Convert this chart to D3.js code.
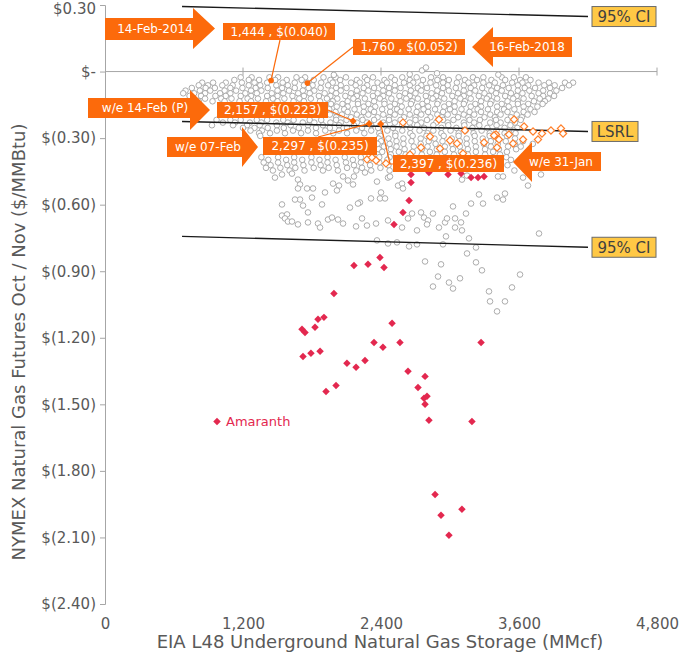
<!DOCTYPE html>
<html>
<head>
<meta charset="utf-8">
<script src="https://cdn.jsdelivr.net/npm/d3@7"></script>
<style>
  body { margin: 0; background: #fff; }
  text { font-family: "DejaVu Sans", Verdana, sans-serif; }
</style>
</head>
<body>
<svg width="694" height="657"></svg>
<script>
// axis ticks
const xTicks = [0, 1200, 2400, 3600, 4800]
const yTicks = [0.3, 0, -0.3, -0.6, -0.9, -1.2, -1.5, -1.8, -2.1, -2.4]

// gray history points: [y, [x...]]
const grayRows = [
  [-0.026, [1180,1275,1430,1505,1665,1740,1900,2005,2095,2260,2330,2490,2585,2710,2835,2940,3075,3200,3290,3450,3555,3660]],
  [-0.038, [1125,1250,1340,1480,1580,1710,1815,1960,2045,2190,2280,2430,2520,2650,2765,2890,2990,3130,3235,3360,3480,3610,3700]],
  [-0.050, [845,940,1050,1190,1300,1410,1545,1650,1760,1880,1980,2140,2215,2370,2450,2600,2680,2830,2940,3060,3160,3290,3390,3540,3630,3770,3860,4000,4070]],
  [-0.062, [815,895,1020,1110,1250,1350,1490,1590,1730,1805,1940,2050,2180,2280,2410,2520,2650,2750,2880,2980,3120,3210,3340,3460,3590,3680,3820,3910,4035]],
  [-0.074, [755,875,955,1090,1195,1310,1415,1540,1650,1770,1875,2010,2100,2250,2340,2470,2570,2720,2800,2940,3050,3180,3280,3410,3510,3650,3740,3870,3975]],
  [-0.086, [700,825,915,1040,1140,1270,1360,1500,1600,1720,1820,1970,2050,2190,2290,2420,2520,2660,2750,2890,2990,3120,3220,3360,3450,3590,3690,3810,3925]],
  [-0.098, [680,775,870,1000,1090,1220,1320,1450,1550,1680,1780,1910,2010,2140,2240,2370,2470,2610,2700,2840,2930,3070,3170,3300,3400,3530,3630,3770,3870]],
  [-0.110, [735,835,960,1050,1180,1270,1410,1500,1630,1730,1860,1960,2090,2190,2330,2420,2560,2650,2790,2880,3020,3120,3250,3340,3480,3580,3710,3810,3905]],
  [-0.122, [765,870,1010,1100,1240,1330,1460,1560,1690,1790,1930,2020,2160,2260,2390,2490,2620,2720,2850,2950,3090,3180,3320,3410,3550,3640,3780,3855]],
  [-0.134, [815,935,1040,1170,1270,1400,1500,1640,1730,1870,1980,2110,2200,2340,2430,2570,2670,2800,2900,3040,3130,3270,3360,3500,3590,3730,3825]],
  [-0.146, [1965,2065,2200,2290,2430,2520,2660,2760,2890,2990,3120,3220,3350,3450,3590,3680,3805]],
  [-0.158, [2015,2110,2250,2350,2480,2580,2720,2810,2950,3040,3180,3270,3410,3510,3640,3760]],
  [-0.170, [1950,2080,2170,2310,2410,2540,2640,2770,2870,3000,3100,3240,3330,3470,3560,3700]],
  [-0.182, [2005,2110,2250,2340,2480,2570,2710,2810,2940,3040,3170,3270,3410,3500,3640,3735]],
  [-0.194, [1955,2060,2190,2290,2420,2520,2650,2750,2890,2980,3120,3210,3350,3440,3580,3675]],
  [-0.206, [2010,2140,2230,2370,2470,2600,2700,2830,2930,3070,3160,3300,3390,3530,3625]],
  [-0.218, [970,1090,1180,1320,1410,1550,1640,1780,1880,2010,2100,2240,2340,2470,2570,2700,2800,2940,3030,3170,3260,3400,3500,3615]],
  [-0.230, [1025,1130,1260,1360,1490,1590,1720,1820,1960,2050,2190,2280,2420,2520,2650,2750,2880,2980,3120,3210,3350,3440,3565]],
  [-0.242, [930,1113,1235,1345,1495,1615,1765,1895,2035,2165,2315,2435,2585,2715,2855,2985,3125,3255,3405,3525]],
  [-0.254, [1200,1300,1415,1555,1685,1835,1955,2105,2235,2375,2505,2655,2775,2925,3055,3195,3325,3475,3585]],
  [-0.266, [1265,1365,1495,1635,1765,1915,2035,2185,2315,2455,2585,2735,2855,3005,3135,3275,3405,3555]],
  [-0.278, [1340,1435,1565,1705,1835,1985,2105,2255,2385,2525,2655,2805,2925,3075,3205,3345,3475,3570]],
  [-0.290, [1350,2395,2525,2675,2795,2945,3075,3215,3345,3495]],
  [-0.302, [2380,2465,2595,2745,2865,3015,3145,3285,3415,3565]],
  [-0.314, [2400,2535,2665,2815,2935,3085,3215,3355,3485,3635]],
  [-0.326, [2370,2475,2595,2745,2875,3015,3145,3295,3415,3565,3720]],
  [-0.338, [2425,2535,2685,2805,2955,3085,3225,3355,3505,3615]],
  [-0.350, [2380,2485,2605,2755,2885,3025,3155,3305,3425,3575]],
  [-0.362, [2410,2555,2675,2825,2955,3095,3225,3375,3495]],
  [-0.374, [2370,2485,2615,2755,2885,3035,3155,3305,3435]],
  [-0.386, [1360,1505,1645,1795,1935,2085,2225,2385,2475,3490]],
  [-0.398, [1420,1575,1715,1865,2005,2155,2295,2455,3530]],
  [-0.410, [1380,1505,1645,1795,1935,2095,2225,2385]],
  [-0.422, [1440,1585,1725,1875,2015,2165,2305,2465,3500]],
  [-0.434, [1400,1525,1655,1815,1945,2105,2235,2395]],
  [-0.446, [1460,1605,1735,1895,2025,2185,2315,2475,3560]]
]

// gray outliers above zero and in the lower tail
const grayExtra = [
  [2757,0.005],[2791,0.018],[2887,-0.008],[2650,-0.012],[1990,-0.015],[3420,-0.014],
  [1478,-0.478],[1539,-0.464],[1626,-0.460],[1678,-0.487],[1696,-0.509],[1678,-0.527],
  [1757,-0.527],[1809,-0.527],[1913,-0.545],[1983,-0.505],[2035,-0.514],[2017,-0.536],
  [2070,-0.473],[2113,-0.491],[2157,-0.509],[2165,-0.473],[2261,-0.455],[2365,-0.496],
  [2461,-0.478],[2478,-0.473],[2548,-0.514],[2583,-0.505],[2591,-0.527],[2400,-0.545],
  [2391,-0.572],[2435,-0.572],[2313,-0.572],[2217,-0.590],[2200,-0.595],[2130,-0.613],
  [1887,-0.599],[1800,-0.568],[1722,-0.604],[1696,-0.577],[1652,-0.577],[1539,-0.599],
  [1765,-0.635],[1539,-0.649],[1583,-0.644],[1565,-0.662],[1591,-0.676],[1626,-0.676],
  [1678,-0.689],[1765,-0.680],[1852,-0.685],[1870,-0.703],[1939,-0.667],[1974,-0.658],
  [2026,-0.667],[2070,-0.685],[2183,-0.698],[2235,-0.662],[2278,-0.694],[2357,-0.685],
  [2461,-0.671],[2583,-0.703],[2635,-0.662],[2670,-0.640],[2748,-0.635],[2774,-0.658],
  [2809,-0.671],[2852,-0.640],[2800,-0.689],[2713,-0.716],[2904,-0.703],[2957,-0.680],
  [2974,-0.662],[3044,-0.662],[3044,-0.703],[3096,-0.680],[3104,-0.716],[3139,-0.640],
  [3026,-0.608],[3183,-0.595],[3252,-0.554],[3287,-0.595],[3409,-0.568],[3461,-0.577],
  [3478,-0.550],[3104,-0.487],[3148,-0.469],[3417,-0.473],[3461,-0.473],[3635,-0.478],
  [3678,-0.514],[3791,-0.464],[2965,-0.743],[3165,-0.752],[3226,-0.793],[3148,-0.820],
  [3774,-0.730],[2365,-0.761],[2461,-0.775],[2539,-0.770],[2644,-0.788],[2713,-0.779],
  [2939,-0.779],[2783,-0.856],[2922,-0.869],[3226,-0.860],[3278,-0.896],[2896,-0.924],
  [3087,-0.932],[2991,-0.951],[2852,-0.969],[3026,-0.978],[3339,-0.991],[3539,-0.973],
  [3609,-0.915],[3348,-1.036],[3478,-1.036],[3409,-1.081]
]

// this winter (hollow orange diamonds)
const thisWinter = [
  [2591,-0.230],[2904,-0.216],[3130,-0.266],[3400,-0.284],[3557,-0.216],[3644,-0.248],
  [3722,-0.270],[3878,-0.266],[3965,-0.257],[3983,-0.279],[3800,-0.279],[3765,-0.306],
  [3383,-0.288],[3426,-0.306],[3513,-0.284],[3548,-0.324],[3635,-0.306],[2826,-0.293],
  [3000,-0.311],[3061,-0.324],[2913,-0.347],[2748,-0.342],[2652,-0.374],[3113,-0.369],
  [3296,-0.320],[3409,-0.342],[2278,-0.396],[2322,-0.387],[2357,-0.401],[2443,-0.414]
]

// red winters
const redWinters = [
  [2391,-0.838],[2165,-0.874],[2287,-0.869],[2426,-0.883],[1991,-1.000],[1713,-1.162],
  [1739,-1.176],[1852,-1.117],[1904,-1.108],[1826,-1.153],[2496,-1.135],[1722,-1.284],
  [1791,-1.270],[1870,-1.261],[2339,-1.221],[2417,-1.243],[2565,-1.221],[3270,-1.221],
  [2104,-1.315],[2183,-1.333],[2261,-1.302],[2635,-1.351],[2783,-1.374],[2722,-1.424],
  [2774,-1.473],[2800,-1.464],[2783,-1.500],[2817,-1.572],[3191,-1.577],[1922,-1.442],
  [2009,-1.415],[2870,-1.906],[3104,-1.973],[2922,-2.000],[2991,-2.090],[2661,-0.464],
  [2661,-0.500],[2644,-0.581],[2591,-0.635],[2513,-0.689],[2817,-0.455],[2983,-0.464],
  [3096,-0.460],[3183,-0.478],[3244,-0.478],[3296,-0.473]
]
const amaranth = [974, -1.577]

// highlighted points
const datePoints = [[1444, -0.040], [1760, -0.052]]
const weekPoints = [[2157, -0.223], [2297, -0.235], [2397, -0.236]]

// regression line and 95% band
const fitX = [670, 4200]
const lsrlY = [-0.225, -0.270]
const ciUpperY = [0.293, 0.248]
const ciLowerY = [-0.743, -0.792]

const svg = d3.select('svg')
const width = +svg.attr('width')
const height = +svg.attr('height')

const margin = { top: 5, right: 37, bottom: 53, left: 105 }
const innerWidth = width - margin.left - margin.right
const innerHeight = height - margin.top - margin.bottom

const orange = '#fc6a0b'
const red = '#e3284f'
const axisGray = '#a6a6a6'
const textGray = '#595959'

const xScale = d3.scaleLinear().domain([0, 4800]).range([0, innerWidth])
const yScale = d3.scaleLinear().domain([-2.4, 0.3]).range([innerHeight, 0])

const g = svg.append('g')
    .attr('transform', `translate(${margin.left}, ${margin.top})`)

const money = v => v === 0 ? '$-' : v > 0 ? `$${v.toFixed(2)}` : `$(${(-v).toFixed(2)})`

// y axis
const yAxis = g.append('g').call(d3.axisLeft(yScale).tickValues(yTicks).tickFormat(money).tickSize(5).tickPadding(4))
yAxis.select('.domain').attr('stroke', axisGray)
yAxis.selectAll('line').attr('stroke', axisGray)
yAxis.selectAll('text').attr('fill', textGray).style('font-size', '15px')
    .style('font-family', '"DejaVu Sans", Verdana, sans-serif')
    .attr('dy', (d, i) => i === 0 ? '0.55em' : '0.32em')

// x axis line at zero, labels at the bottom
const y0 = yScale(0)
g.append('line').attr('x1', 0).attr('x2', innerWidth).attr('y1', y0).attr('y2', y0)
    .attr('stroke', axisGray)
g.selectAll('.xtick').data(xTicks.slice(1)).join('line')
    .attr('x1', d => xScale(d)).attr('x2', d => xScale(d))
    .attr('y1', y0 - 4).attr('y2', y0 + 4).attr('stroke', axisGray)

const xAxis = g.append('g').attr('transform', `translate(0, ${innerHeight})`)
    .call(d3.axisBottom(xScale).tickValues(xTicks).tickFormat(d3.format(',')).tickSize(0).tickPadding(14))
xAxis.select('.domain').remove()
xAxis.selectAll('text').attr('fill', textGray).style('font-size', '15px')
    .style('font-family', '"DejaVu Sans", Verdana, sans-serif')

svg.append('text')
    .attr('x', margin.left + innerWidth / 2 - 1).attr('y', 648)
    .attr('text-anchor', 'middle').attr('fill', textGray).style('font-size', '18px')
    .text('EIA L48 Underground Natural Gas Storage (MMcf)')

svg.append('text')
    .attr('transform', 'translate(25, 342) rotate(-90)')
    .attr('text-anchor', 'middle').attr('fill', textGray).style('font-size', '18px')
    .text('NYMEX Natural Gas Futures Oct / Nov ($/MMBtu)')

// gray history cloud
const gray = grayRows.flatMap(([y, xs]) => xs.map(x => [x, y])).concat(grayExtra)
g.append('g').selectAll('circle').data(gray).join('circle')
    .attr('cx', d => xScale(d[0])).attr('cy', d => yScale(d[1]))
    .attr('r', 2.8).attr('fill', '#fff').attr('stroke', '#a3a3a3').attr('stroke-width', 0.9)

// fit lines
const fits = [ciUpperY, lsrlY, ciLowerY]
g.append('g').selectAll('line').data(fits).join('line')
    .attr('x1', xScale(fitX[0])).attr('x2', xScale(fitX[1]))
    .attr('y1', d => yScale(d[0])).attr('y2', d => yScale(d[1]))
    .attr('stroke', '#1a1a1a').attr('stroke-width', 1.4)

g.append('g').selectAll('path').data(thisWinter).join('path')
    .attr('d', d3.symbol(d3.symbolSquare, 26))
    .attr('transform', d => `translate(${xScale(d[0])}, ${yScale(d[1])}) rotate(45)`)
    .attr('fill', '#fff').attr('stroke', '#ff7f2a').attr('stroke-width', 1.2)

g.append('g').selectAll('path').data(redWinters.concat([amaranth])).join('path')
    .attr('d', d3.symbol(d3.symbolSquare, 28))
    .attr('transform', d => `translate(${xScale(d[0])}, ${yScale(d[1])}) rotate(45)`)
    .attr('fill', red)

g.append('text')
    .attr('x', xScale(amaranth[0]) + 9).attr('y', yScale(amaranth[1]))
    .attr('dy', '0.36em').attr('fill', red).style('font-size', '13px')
    .text('Amaranth')

// annotation shapes, in page pixels
const arrows = [
  { text: '14-Feb-2014', dir: 'right', x0: 105, x1: 193, y0: 18, y1: 40, hy0: 8, hy1: 49, tip: 215, tx: 155 },
  { text: 'w/e 14-Feb (P)', dir: 'right', x0: 88, x1: 190, y0: 98, y1: 118, hy0: 90, hy1: 130, tip: 210, tx: 145 },
  { text: 'w/e 07-Feb', dir: 'right', x0: 167, x1: 242, y0: 137, y1: 157, hy0: 127, hy1: 167, tip: 258, tx: 208 },
  { text: '16-Feb-2018', dir: 'left', x0: 493, x1: 572, y0: 37, y1: 57, hy0: 27, hy1: 67, tip: 472, tx: 527 },
  { text: 'w/e 31-Jan', dir: 'left', x0: 532, x1: 601, y0: 152, y1: 171, hy0: 142, hy1: 182, tip: 513, tx: 561 }
]
const arrowPath = a => {
  const mid = (a.hy0 + a.hy1) / 2
  return a.dir === 'right'
    ? `M${a.x0},${a.y0}L${a.x1},${a.y0}L${a.x1},${a.hy0}L${a.tip},${mid}L${a.x1},${a.hy1}L${a.x1},${a.y1}L${a.x0},${a.y1}Z`
    : `M${a.x1},${a.y0}L${a.x0},${a.y0}L${a.x0},${a.hy0}L${a.tip},${mid}L${a.x0},${a.hy1}L${a.x0},${a.y1}L${a.x1},${a.y1}Z`
}

const boxes = [
  { text: '1,444 , $(0.040)', x: 223, y: 23, w: 112, h: 17, from: [[280, 40]], pt: datePoints[0] },
  { text: '1,760 , $(0.052)', x: 353, y: 39, w: 112, h: 16, from: [[353, 47]], pt: datePoints[1] },
  { text: '2,157 , $(0.223)', x: 217, y: 102, w: 111, h: 16, from: [[328, 110]], pt: weekPoints[0] },
  { text: '2,297 , $(0.235)', x: 263, y: 137, w: 114, h: 18, from: [[318, 137]], pt: weekPoints[1] },
  { text: '2,397 , $(0.236)', x: 393, y: 155, w: 111, h: 17, from: [[393, 164], [390, 164]], pt: weekPoints[2] }
]

// leaders
svg.append('g').selectAll('path').data(boxes).join('path')
    .attr('d', b => {
      const px = margin.left + xScale(b.pt[0]), py = margin.top + yScale(b.pt[1])
      return 'M' + b.from.map(p => p.join(',')).join('L') + `L${px},${py}`
    })
    .attr('fill', 'none').attr('stroke', orange).attr('stroke-width', 1.2)

g.append('g').selectAll('circle').data(datePoints).join('circle')
    .attr('cx', d => xScale(d[0])).attr('cy', d => yScale(d[1])).attr('r', 2.8).attr('fill', orange)

g.append('g').selectAll('path').data(weekPoints).join('path')
    .attr('d', d3.symbol(d3.symbolSquare, 26))
    .attr('transform', d => `translate(${xScale(d[0])}, ${yScale(d[1])}) rotate(45)`)
    .attr('fill', orange)

const ann = svg.append('g')
ann.selectAll('path').data(arrows).join('path').attr('d', arrowPath).attr('fill', orange)
ann.selectAll('text.arrow').data(arrows).join('text')
    .attr('x', a => a.tx).attr('y', a => (a.y0 + a.y1) / 2).attr('dy', '0.36em')
    .attr('text-anchor', 'middle').attr('fill', '#fff').style('font-size', '12px')
    .text(a => a.text)

const bx = ann.selectAll('g.box').data(boxes).join('g')
bx.append('rect').attr('x', b => b.x).attr('y', b => b.y).attr('width', b => b.w).attr('height', b => b.h)
    .attr('fill', orange)
bx.append('text').attr('x', b => b.x + b.w / 2).attr('y', b => b.y + b.h / 2).attr('dy', '0.36em')
    .attr('text-anchor', 'middle').attr('fill', '#fff').style('font-size', '12px')
    .text(b => b.text)

// gold line labels
const tags = [
  { text: '95% CI', ys: ciUpperY, w: 64 },
  { text: 'LSRL', ys: lsrlY, w: 46 },
  { text: '95% CI', ys: ciLowerY, w: 64 }
]
const tg = svg.append('g').selectAll('g').data(tags).join('g')
    .attr('transform', t => `translate(${margin.left + xScale(fitX[1]) + 4}, ${margin.top + yScale(t.ys[1])})`)
tg.append('rect').attr('x', 0).attr('y', -10).attr('width', t => t.w).attr('height', 20)
    .attr('fill', '#ffc845').attr('stroke', '#6b6b6b').attr('stroke-width', 1)
tg.append('text').attr('x', t => t.w / 2).attr('y', 0).attr('dy', '0.36em')
    .attr('text-anchor', 'middle').attr('fill', '#404040').style('font-size', '15px')
    .text(t => t.text)
</script>
</body>
</html>
